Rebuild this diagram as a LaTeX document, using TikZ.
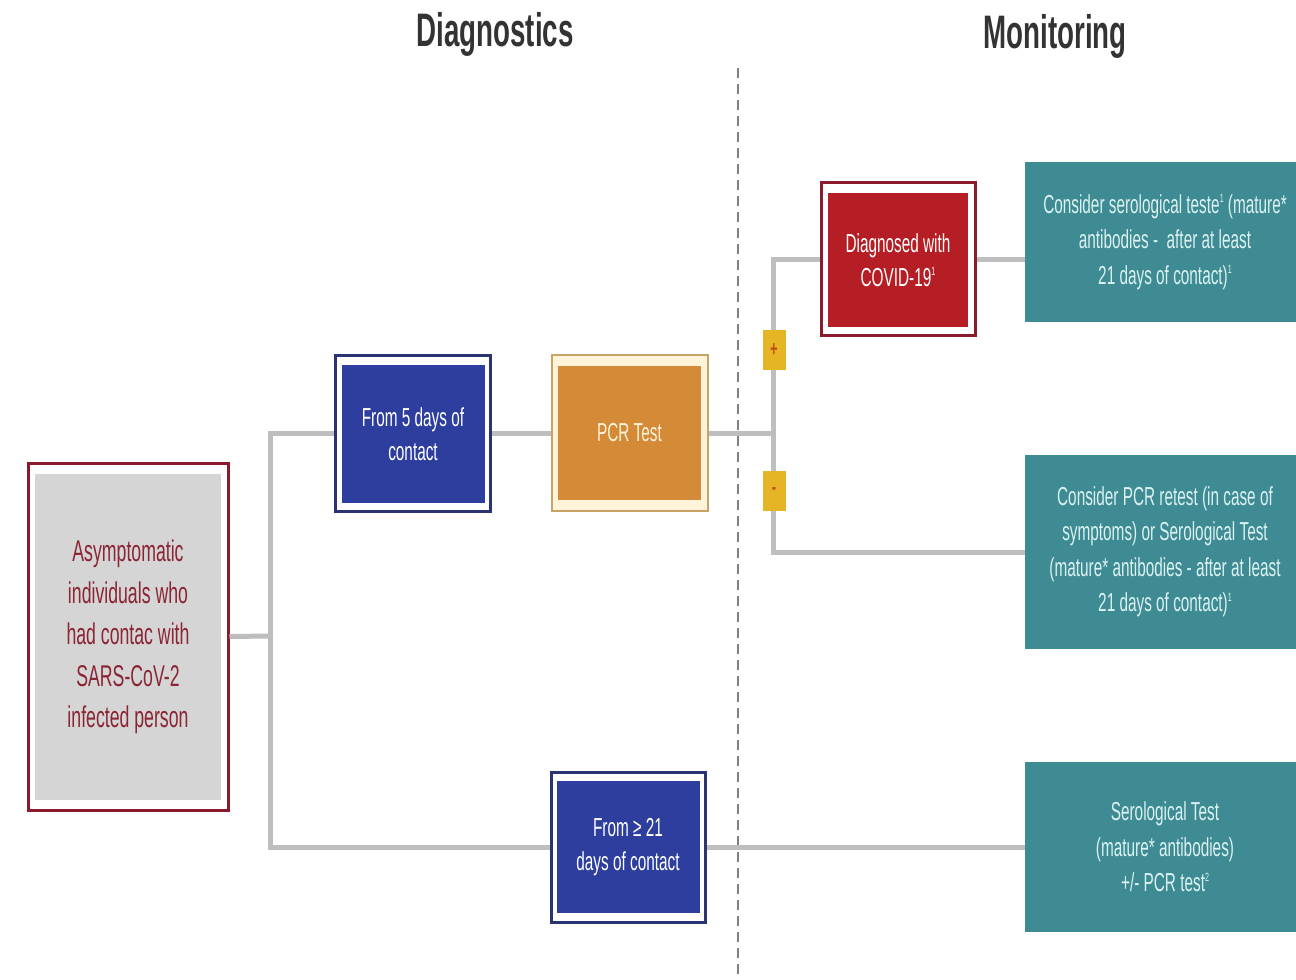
\documentclass[tikz,border=0pt]{standalone}
\usepackage{fontspec}
\setmainfont{Liberation Sans}[FakeStretch=0.59]
\definecolor{navyframe}{HTML}{2A3470}
\definecolor{bluefill}{HTML}{2E3E9E}
\definecolor{orangefill}{HTML}{D48A36}
\definecolor{tanframe}{HTML}{C9A266}
\definecolor{cream}{HTML}{FFF4DA}
\definecolor{darkred}{HTML}{8A1A2C}
\definecolor{redfill}{HTML}{B51E24}
\definecolor{grayfill}{HTML}{D5D5D5}
\definecolor{textred}{HTML}{8B2535}
\definecolor{teal}{HTML}{3F8B94}
\definecolor{tealtext}{HTML}{DAF2F2}
\definecolor{linegray}{HTML}{BEBEBE}
\definecolor{signyellow}{HTML}{E6B525}
\definecolor{signtext}{HTML}{C0501A}
\definecolor{titlegray}{HTML}{333333}
\newcommand{\supr}[1]{\raisebox{0.75ex}{\fontsize{12}{12}\selectfont #1}}
\tikzset{
  frame/.style={draw=#1, line width=3pt, fill=white, inner sep=0pt},
  fillbox/.style={fill=#1, inner sep=0pt, align=center},
  tealbox/.style={fill=teal, inner sep=0pt, align=center, text=tealtext,
    font=\fontsize{26}{35.5}\selectfont},
  conn/.style={draw=linegray, line width=5pt},
  sign/.style={fill=signyellow, inner sep=0pt, minimum width=23pt, minimum height=40pt,
    text=signtext, font=\fontsize{22}{22}\selectfont\bfseries},
  title/.style={font=\fontsize{47}{47}\selectfont\bfseries, text=titlegray}
}
\begin{document}
\begin{tikzpicture}[x=1pt,y=-1pt]
\useasboundingbox (0,0) rectangle (1296,980);
% titles
\node[title] (tdiag) at (495,34) {Diagnostics};
\node[title] (tmon) at (1055,36) {Monitoring};
% dashed separator
\coordinate (dtop) at (738,68);
\coordinate (dbot) at (738,975);
\draw[draw=gray, line width=1.3pt, dash pattern=on 10pt off 6pt] (dtop) -- (dbot);
% asymptomatic box
\node[frame=darkred, minimum width=200pt, minimum height=347pt] (asym) at (128,636.5) {};
\node[fillbox=grayfill, minimum width=186pt, minimum height=326pt, text=textred,
  font=\fontsize{30}{41.5}\selectfont] (asymin) at (128,637)
  {Asymptomatic\\individuals who\\had contac with\\SARS-CoV-2\\infected person};
% from 5 days
\node[frame=navyframe, minimum width=155pt, minimum height=156pt] (from5) at (412.5,433) {};
\node[fillbox=bluefill, minimum width=143pt, minimum height=138pt, text=white,
  font=\fontsize{26}{34}\selectfont] (from5in) at (413,434) {From 5 days of\\contact};
% PCR test
\node[draw=tanframe, line width=2pt, fill=cream, inner sep=0pt, minimum width=156pt, minimum height=156pt] (pcr) at (629.5,433) {};
\node[fillbox=orangefill, minimum width=143pt, minimum height=134pt, text=cream,
  font=\fontsize{26}{34}\selectfont] (pcrin) at (629.5,433) {PCR Test};
% diagnosed
\node[frame=darkred, minimum width=154pt, minimum height=153pt] (diag) at (898,259) {};
\node[fillbox=redfill, minimum width=140pt, minimum height=134pt, text=white,
  font=\fontsize{26}{34}\selectfont] (diagin) at (898,260) {Diagnosed with\\COVID-19\supr{1}};
% from >= 21
\node[frame=navyframe, minimum width=154pt, minimum height=150pt] (from21) at (628,847) {};
\node[fillbox=bluefill, minimum width=143pt, minimum height=132pt, text=white,
  font=\fontsize{26}{34}\selectfont] (from21in) at (628,847) {From ≥ 21\\days of contact};
% teal boxes
\node[tealbox, minimum width=280pt, minimum height=160pt] (teal1) at (1165,242)
  {Consider serological teste\supr{1} (mature*\\antibodies -\ \ after at least\\21 days of contact)\supr{1}};
\node[tealbox, minimum width=280pt, minimum height=194pt] (teal2) at (1165,552)
  {Consider PCR retest (in case of\\symptoms) or Serological Test\\(mature* antibodies - after at least\\21 days of contact)\supr{1}};
\node[tealbox, minimum width=280pt, minimum height=170pt] (teal3) at (1165,847)
  {Serological Test\\(mature* antibodies)\\+/- PCR test\supr{2}};
% connectors
\coordinate (j1) at (270,636);
\coordinate (j2) at (773,433);
\draw[conn] (asym.east) -- (j1);
\draw[conn] (j1) |- (from5.west);
\draw[conn] (j1) |- (from21.west);
\draw[conn] (from5.east) -- (pcr.west);
\draw[conn] (pcr.east) -- (j2);
\draw[conn] (j2) |- (diag.west);
\draw[conn] (j2) |- (teal2.west);
\draw[conn] (diag.east) -- (diag.east -| teal1.west);
\draw[conn] (from21.east) -- (from21.east -| teal3.west);
% signs
\node[sign] (plus) at (774,350) {+};
\node[sign] (minus) at (774,491) {-};
\end{tikzpicture}
\end{document}
